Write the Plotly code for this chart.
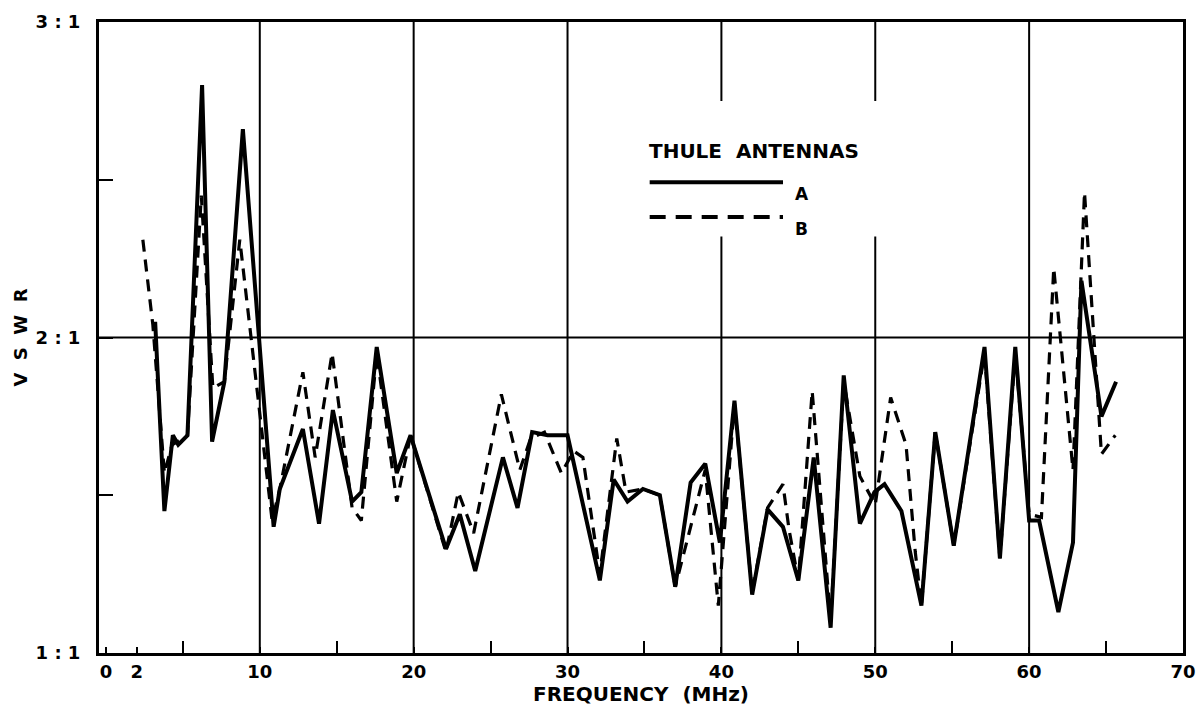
import plotly.graph_objects as go

# ---- data ----
freq_a = [3.2, 3.8, 4.35, 4.7, 5.3, 6.25, 6.9, 7.7, 8.9, 10.9, 11.3, 12.8, 13.85, 14.75,
          16.0, 16.6, 17.6, 18.9, 19.8, 22.1, 23.0, 24.0, 25.8, 26.75, 27.7, 28.7, 30.0,
          32.1, 33.0, 33.9, 34.9, 36.0, 37.0, 38.0, 38.95, 39.9, 40.85, 42.0, 43.0, 44.0,
          45.0, 46.0, 47.1, 47.95, 49.0, 49.95, 50.6, 51.7, 53.0, 53.9, 55.1, 57.1, 58.1,
          59.1, 60.0, 60.65, 61.9, 62.85, 63.4, 64.7, 65.65]
vswr_a = [2.05, 1.45, 1.69, 1.66, 1.69, 2.80, 1.67, 1.86, 2.66, 1.40, 1.52, 1.71, 1.41, 1.77,
          1.48, 1.51, 1.97, 1.57, 1.69, 1.33, 1.44, 1.26, 1.62, 1.46, 1.70, 1.69, 1.69,
          1.23, 1.55, 1.48, 1.52, 1.50, 1.21, 1.54, 1.60, 1.35, 1.80, 1.185, 1.455, 1.40,
          1.23, 1.62, 1.08, 1.88, 1.41, 1.51, 1.535, 1.45, 1.15, 1.70, 1.34, 1.97, 1.30,
          1.97, 1.42, 1.42, 1.13, 1.35, 2.18, 1.75, 1.86]

freq_b = [2.4, 3.05, 3.8, 4.3, 5.3, 6.2, 6.95, 7.7, 8.7, 10.8, 11.3, 12.8, 13.6, 14.7,
          16.0, 16.6, 17.6, 18.9, 19.8, 22.1, 22.9, 23.9, 25.7, 26.9, 27.6, 28.5, 29.6,
          30.4, 31.0, 32.1, 33.2, 33.8, 34.9, 36.0, 37.0, 38.95, 39.8, 40.85, 42.0, 43.0,
          44.0, 44.4, 45.0, 45.9, 47.1, 47.95, 49.0, 50.0, 51.0, 52.0, 52.6, 53.0, 53.9,
          55.1, 57.1, 58.1, 59.1, 60.0, 60.8, 61.6, 62.85, 63.6, 64.7, 65.6]
vswr_b = [2.31, 2.04, 1.57, 1.66, 1.69, 2.45, 1.84, 1.86, 2.31, 1.42, 1.52, 1.89, 1.62, 1.95,
          1.46, 1.42, 1.95, 1.48, 1.69, 1.32, 1.51, 1.38, 1.82, 1.58, 1.68, 1.70, 1.57,
          1.64, 1.62, 1.25, 1.68, 1.51, 1.52, 1.50, 1.21, 1.58, 1.15, 1.79, 1.19, 1.46,
          1.535, 1.39, 1.23, 1.83, 1.10, 1.86, 1.56, 1.47, 1.81, 1.66, 1.32, 1.15, 1.70,
          1.34, 1.95, 1.30, 1.95, 1.44, 1.43, 2.22, 1.58, 2.46, 1.63, 1.69]

x_tick_vals = [0, 2, 10, 20, 30, 40, 50, 60, 70]
x_tick_text = ["0", "2", "10", "20", "30", "40", "50", "60", "70"]
x_minor_vals = [5, 15, 25, 35, 45, 55, 65]
y_tick_vals = [1, 1.5, 2, 2.5, 3]
y_tick_text = ["1 : 1", "", "2 : 1", "", "3 : 1"]
x_grid = [10, 20, 30, 40, 50, 60]
y_grid = [2]

FONT = "DejaVu Sans"
fig = go.Figure()
fig.add_trace(go.Scatter(x=freq_b, y=vswr_b, mode="lines", name="B",
                         line=dict(color="black", width=3.2, dash="12px,8px")))
fig.add_trace(go.Scatter(x=freq_a, y=vswr_a, mode="lines", name="A",
                         line=dict(color="black", width=4)))

shapes = []
for g in x_grid:
    shapes.append(dict(type="line", xref="x", yref="paper", x0=g, x1=g, y0=0, y1=1,
                       line=dict(color="black", width=2), layer="below"))
for g in y_grid:
    shapes.append(dict(type="line", xref="paper", yref="y", x0=0, x1=1, y0=g, y1=g,
                       line=dict(color="black", width=2), layer="below"))
# legend background
shapes.append(dict(type="rect", xref="paper", yref="paper", x0=0.476, x1=0.725,
                   y0=0.66, y1=0.875, fillcolor="white", line=dict(width=0), layer="between"))
# legend keys
shapes.append(dict(type="line", xref="paper", yref="paper", x0=0.508, x1=0.631,
                   y0=0.746, y1=0.746, line=dict(color="black", width=4)))
shapes.append(dict(type="line", xref="paper", yref="paper", x0=0.508, x1=0.631,
                   y0=0.691, y1=0.691, line=dict(color="black", width=4, dash="16px,10px")))

annotations = [
    dict(text="THULE  ANTENNAS", xref="paper", yref="paper", x=0.604, y=0.817,
         showarrow=False, font=dict(family=FONT, size=20, color="black", weight="bold")),
    dict(text="A", xref="paper", yref="paper", x=0.640, y=0.746, xanchor="left",
         showarrow=False, font=dict(family=FONT, size=17, color="black", weight="bold")),
    dict(text="B", xref="paper", yref="paper", x=0.640, y=0.691, xanchor="left",
         showarrow=False, font=dict(family=FONT, size=17, color="black", weight="bold")),
]

fig.update_layout(
    width=1198, height=714,
    margin=dict(l=99, r=15, t=22, b=61, autoexpand=False),
    paper_bgcolor="white", plot_bgcolor="white",
    showlegend=False,
    shapes=shapes, annotations=annotations,
    xaxis=dict(range=[-0.45, 70], tickmode="array", tickvals=x_tick_vals, ticktext=x_tick_text,
               automargin=False,
               ticks="inside", ticklen=6, tickwidth=2, tickcolor="black",
               minor=dict(tickvals=x_minor_vals, ticks="inside", ticklen=12, tickwidth=2,
                          tickcolor="black"),
               showgrid=False, zeroline=False,
               showline=True, linewidth=3, linecolor="black", mirror=True,
               ticklabelstandoff=0,
               tickfont=dict(family=FONT, size=18, color="black", weight="bold"),
               title=dict(text="FREQUENCY  (MHz)", standoff=4,
                          font=dict(family=FONT, size=20, color="black", weight="bold"))),
    yaxis=dict(range=[1, 3], tickmode="array", tickvals=y_tick_vals, ticktext=y_tick_text,
               automargin=False,
               ticks="inside", ticklen=14, tickwidth=2, tickcolor="black",
               showgrid=False, zeroline=False,
               showline=True, linewidth=3, linecolor="black", mirror=True,
               ticklabelstandoff=12,
               tickfont=dict(family=FONT, size=18, color="black", weight="bold"),
               title=dict(text="V  S  W  R", standoff=4,
                          font=dict(family=FONT, size=18, color="black", weight="bold"))),
)

fig.write_html("out.html", config={"displayModeBar": False},
               post_script="document.body.style.margin='0';document.body.style.padding='0';")
